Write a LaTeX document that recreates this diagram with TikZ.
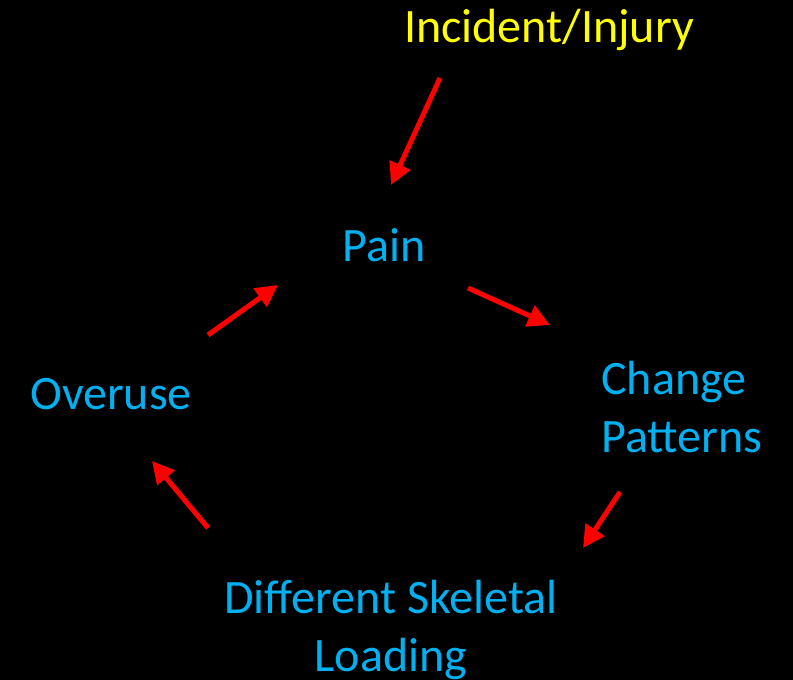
\documentclass[tikz,border=0pt]{standalone}
\usepackage{fontspec}
\setmainfont{Carlito}
\usetikzlibrary{arrows.meta}
\definecolor{cyclecyan}{HTML}{00B0F0}
\definecolor{causeyellow}{HTML}{FFFF00}
\tikzset{
  label_text/.style = {inner sep=0pt, font=\fontsize{36}{43.5}\selectfont},
  cause_node/.style = {label_text, causeyellow},% cause, en jaune
  cycle_node/.style = {label_text, cyclecyan},% etapes du cycle
  cycle_arrow/.style = {red, line width=3.75pt,
    -{Triangle[length=16.5pt, width=16.5pt]}}% fleches rouges
}

\begin{document}
\begin{tikzpicture}[x=0.75pt, y=0.75pt]
      \fill[black] (0,0) rectangle (793,680);
      \useasboundingbox (0,0) rectangle (793,680);
      \node [cause_node, anchor=base] (incident) at (549,637) {Incident/Injury};
      \node [cycle_node, anchor=base] (pain) at (384,418) {Pain};
      \node [cycle_node, anchor=base west, align=left] (change) at (601,227) {Change\\Patterns};
      \node [cycle_node, anchor=base west] (overuse) at (30,270) {Overuse};
      \node [cycle_node, anchor=base, align=center] (loading) at (391,8) {Different Skeletal\\Loading};
      % extremites des fleches
      \coordinate (a1s) at (440,602); \coordinate (a1e) at (391,495);
      \coordinate (a2s) at (468,392); \coordinate (a2e) at (550,355);
      \coordinate (a3s) at (620,188); \coordinate (a3e) at (583,132);
      \coordinate (a4s) at (208,152); \coordinate (a4e) at (152,219);
      \coordinate (a5s) at (208,345); \coordinate (a5e) at (278,395);
      \draw [cycle_arrow] (a1s) -- (a1e);
      \draw [cycle_arrow] (a2s) -- (a2e);
      \draw [cycle_arrow] (a3s) -- (a3e);
      \draw [cycle_arrow] (a4s) -- (a4e);
      \draw [cycle_arrow] (a5s) -- (a5e);
\end{tikzpicture}
\end{document}
